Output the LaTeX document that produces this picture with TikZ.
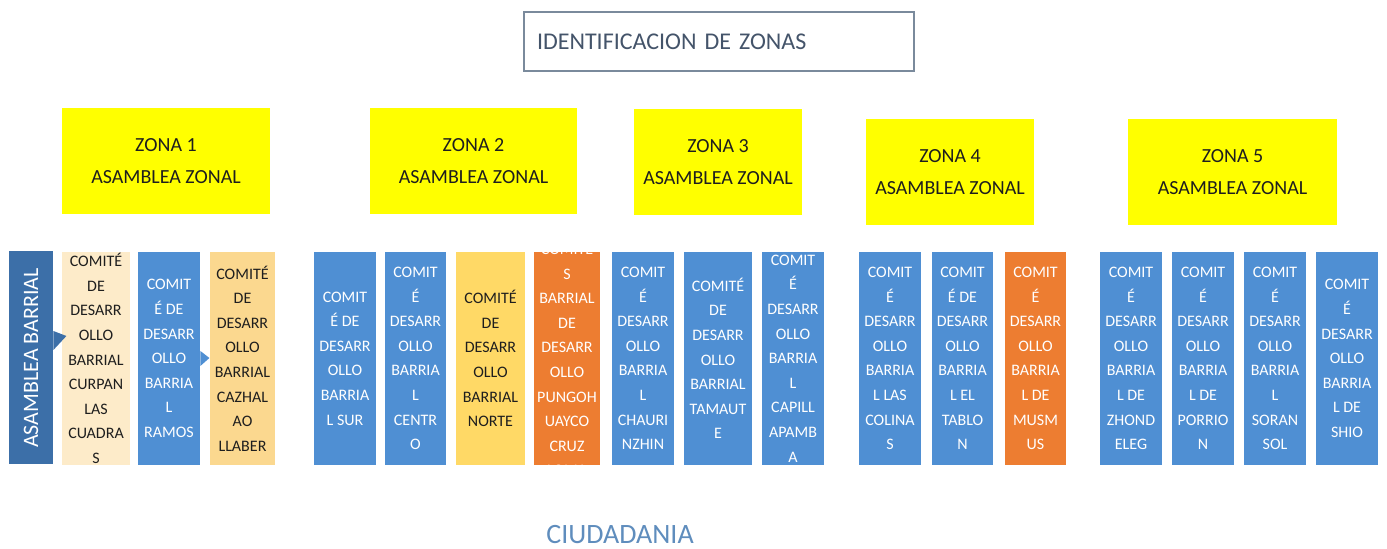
\documentclass[tikz,border=0pt]{standalone}
\usepackage{fontspec}
\setmainfont{Carlito}
\usepackage{xcolor}
\usetikzlibrary{positioning}
\definecolor{ink}{HTML}{1E1E1E}
\definecolor{titleink}{HTML}{44546A}
\definecolor{titleline}{HTML}{7A8A9C}
\definecolor{zonaYel}{HTML}{FFFF00}
\definecolor{barrBlue}{HTML}{4F8FD3}
\definecolor{asamBlue}{HTML}{3C6FA8}
\definecolor{cream}{HTML}{FDEBC9}
\definecolor{peach}{HTML}{FBD88F}
\definecolor{gold}{HTML}{FFD966}
\definecolor{naranja}{HTML}{ED7D31}
\definecolor{ciudad}{HTML}{5F8DBD}

\tikzset{
  titlebox/.style={draw=titleline, line width=0.8pt, fill=white, minimum width=195pt,
    minimum height=29.5pt, text width=182pt, align=left, inner xsep=6.5pt,
    text=titleink, font=\fontsize{12}{14}\selectfont},
  zonebox/.style={fill=zonaYel, minimum height=53pt, align=center, text=ink,
    font=\fontsize{10}{16}\selectfont},
  comite/.style={minimum height=106.5pt, inner sep=0pt, align=center,
    font=\fontsize{8}{12.3}\selectfont},
}

\begin{document}
\begin{tikzpicture}[x=0.5pt, y=-0.5pt]
  \useasboundingbox (0,0) rectangle (1387,549);

  % title
  \node[titlebox] (titulo) at (719,41.5) {IDENTIFICACION DE ZONAS};

  % zones
  \node[zonebox, minimum width=104pt] (zona1) at (166,161.5) {ZONA 1\\ASAMBLEA ZONAL};
  \node[zonebox, minimum width=103.5pt] (zona2) at (473.5,161.5) {ZONA 2\\ASAMBLEA ZONAL};
  \node[zonebox, minimum width=84pt] (zona3) at (718,162) {ZONA 3\\ASAMBLEA ZONAL};
  \node[zonebox, minimum width=84pt] (zona4) at (950,172) {ZONA 4\\ASAMBLEA ZONAL};
  \node[zonebox, minimum width=104.5pt] (zona5) at (1232.5,172) {ZONA 5\\ASAMBLEA ZONAL};

  % asamblea barrial
  \node[fill=asamBlue, minimum width=106.5pt, minimum height=22pt, inner sep=0pt,
    text=white, rotate=90, font=\fontsize{11}{12}\selectfont] (asamblea) at (31,358) {ASAMBLEA BARRIAL};

  % comites barriales
  \foreach \nm/\cx/\w/\col/\tc/\txt in {
      curpan/96/68/cream/ink/{COMITÉ\\DE\\DESARR\\OLLO\\BARRIAL\\CURPAN\\LAS\\CUADRA\\S},
      ramos/169/62/barrBlue/white/{COMIT\\É DE\\DESARR\\OLLO\\BARRIA\\L\\RAMOS},
      cazhal/242.5/65/peach/ink/{COMITÉ\\DE\\DESARR\\OLLO\\BARRIAL\\CAZHAL\\AO\\LLABER},
      sur/345/62/barrBlue/white/{COMIT\\É DE\\DESARR\\OLLO\\BARRIA\\L SUR},
      centro/415.5/61/barrBlue/white/{COMIT\\É\\DESARR\\OLLO\\BARRIA\\L\\CENTR\\O},
      norte/490.5/69/gold/ink/{COMITÉ\\DE\\DESARR\\OLLO\\BARRIAL\\NORTE},
      chaurinzhin/643/62/barrBlue/white/{COMIT\\É\\DESARR\\OLLO\\BARRIA\\L\\CHAURI\\NZHIN},
      tamaute/718/68/barrBlue/white/{COMITÉ\\DE\\DESARR\\OLLO\\BARRIAL\\TAMAUT\\E},
      capilla/793/62/barrBlue/white/{COMIT\\É\\DESARR\\OLLO\\BARRIA\\L\\CAPILL\\APAMB\\A},
      colinas/890/62/barrBlue/white/{COMIT\\É\\DESARR\\OLLO\\BARRIA\\L LAS\\COLINA\\S},
      tablon/962.5/61/barrBlue/white/{COMIT\\É DE\\DESARR\\OLLO\\BARRIA\\L EL\\TABLO\\N},
      musmus/1035.5/61/naranja/white/{COMIT\\É\\DESARR\\OLLO\\BARRIA\\L DE\\MUSM\\US},
      zhondeleg/1131/62/barrBlue/white/{COMIT\\É\\DESARR\\OLLO\\BARRIA\\L DE\\ZHOND\\ELEG},
      porrion/1203/62/barrBlue/white/{COMIT\\É\\DESARR\\OLLO\\BARRIA\\L DE\\PORRIO\\N},
      soransol/1275/62/barrBlue/white/{COMIT\\É\\DESARR\\OLLO\\BARRIA\\L\\SORAN\\SOL},
      shio/1347/62/barrBlue/white/{COMIT\\É\\DESARR\\OLLO\\BARRIA\\L DE\\SHIO}}
    \node[comite, fill=\col, text=\tc, minimum width=\w*0.5pt] (\nm) at (\cx,358.5) {\txt};

  % pungohuayco: text runs over the box
  \node[comite, fill=naranja, minimum width=33pt] (pungo) at (567,358.5) {};
  \begin{scope}
    \clip (pungo.south west) rectangle (pungo.north east);
    \node[comite, text=white] (pungotxt) at (567,358.5)
      {COMITÉ\\S\\BARRIAL\\DE\\DESARR\\OLLO\\PUNGOH\\UAYCO\\CRUZ\\LOMA};
  \end{scope}

  % pointers
  \fill[asamBlue] ([yshift=13.5pt]asamblea.south) -- ++(6.5pt,-2.5pt) -- ++(-6.5pt,-7pt) -- cycle;
  \fill[barrBlue] ([yshift=3.75pt]ramos.east) -- ++(4.5pt,-3.5pt) -- ++(-4.5pt,-4pt) -- cycle;

  % ciudadania
  \node[text=ciudad, font=\fontsize{14}{16}\selectfont] (ciudadania) at (620,535) {CIUDADANIA};
\end{tikzpicture}
\end{document}
